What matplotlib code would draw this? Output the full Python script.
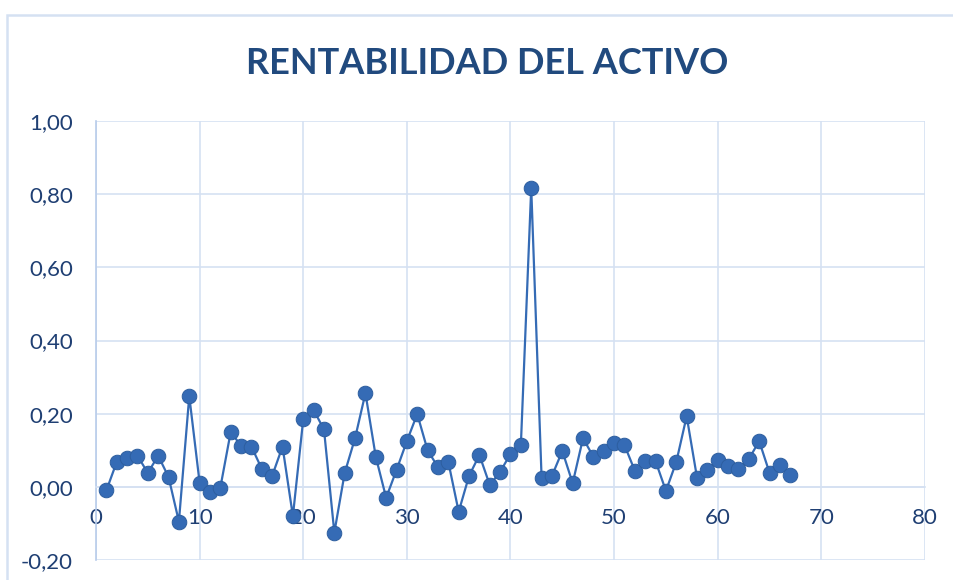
# Scatter with lines: rentabilidad del activo
import matplotlib.pyplot as plt
from matplotlib.patches import Rectangle
from matplotlib.ticker import FuncFormatter

# Data
periodo = list(range(1, 68))
rentabilidad = [-0.01, 0.068, 0.079, 0.085, 0.038, 0.085, 0.027, -0.095, 0.248, 0.011,
                -0.014, -0.002, 0.150, 0.112, 0.110, 0.049, 0.030, 0.110, -0.080, 0.185,
                0.210, 0.157, -0.125, 0.038, 0.133, 0.256, 0.082, -0.030, 0.046, 0.125,
                0.199, 0.100, 0.054, 0.068, -0.068, 0.030, 0.087, 0.005, 0.041, 0.090,
                0.114, 0.817, 0.025, 0.030, 0.098, 0.010, 0.133, 0.082, 0.098, 0.120,
                0.114, 0.044, 0.071, 0.070, -0.011, 0.068, 0.193, 0.025, 0.046, 0.074,
                0.057, 0.049, 0.076, 0.125, 0.038, 0.060, 0.033]
x_ticks = [0, 10, 20, 30, 40, 50, 60, 70, 80]
y_ticks = [-0.2, 0.0, 0.2, 0.4, 0.6, 0.8, 1.0]

text_color = '#1F3F73'
grid_color = '#D5E1F2'
series_color = '#356BB5'

fig = plt.figure(figsize=(9.54, 5.8), dpi=100)
ax = fig.add_axes([96 / 954, 1 - 560 / 580, (925 - 96) / 954, (560 - 121) / 580])

# outer chart border (runs off the right and bottom edges)
fig.patches.append(Rectangle((7 / 954, -0.2), 1.2, 1 - 15 / 580 + 0.2,
                             transform=fig.transFigure, fill=False,
                             edgecolor=grid_color, linewidth=1.8))

ax.plot(periodo, rentabilidad, color=series_color, linewidth=1.6,
        marker='o', markersize=10.5, markerfacecolor=series_color,
        markeredgecolor='#2D5E9F', markeredgewidth=0.7, zorder=3)

ax.set_xlim(0, 80)
ax.set_ylim(-0.2, 1.0)
ax.set_xticks(x_ticks)
ax.set_yticks(y_ticks)
ax.yaxis.set_major_formatter(FuncFormatter(lambda v, p: f'{v:.2f}'.replace('.', ',')))

ax.grid(True, color=grid_color, linewidth=1.2)
ax.set_axisbelow(True)
for side in ['top', 'right']:
    ax.spines[side].set_visible(False)
ax.spines['left'].set_color('#B8CCEA')
ax.spines['left'].set_linewidth(1.2)
ax.spines['bottom'].set_position(('data', 0))
ax.spines['bottom'].set_color(grid_color)
ax.spines['bottom'].set_linewidth(1.2)

ax.tick_params(axis='both', length=0, labelsize=16, labelcolor=text_color)
ax.tick_params(axis='y', pad=16.5)
ax.tick_params(axis='x', pad=15)
for lab in ax.get_xticklabels() + ax.get_yticklabels():
    lab.set_fontfamily('Lato')

fig.text(0.5105, 1 - 63 / 580, 'RENTABILIDAD DEL ACTIVO', ha='center', va='center',
         fontsize=26, fontweight='bold', color='#214A7E', family='Lato')

fig.savefig('out.png', dpi=100)
